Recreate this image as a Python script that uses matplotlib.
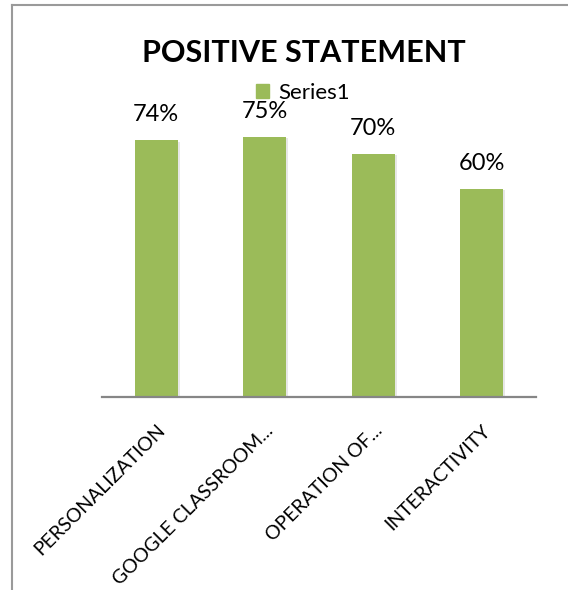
import matplotlib.pyplot as plt
import matplotlib.patheffects as pe
import matplotlib.transforms as mtransforms
from matplotlib.lines import Line2D
from matplotlib.patches import Patch

# data
categories = ["PERSONALIZATION", "GOOGLE CLASSROOM...", "OPERATION OF...", "INTERACTIVITY"]
values = [0.74, 0.75, 0.70, 0.60]
series_name = "Series1"
title = "POSITIVE STATEMENT"

green = "#9BBB59"
W, H = 568, 590

plt.rcParams['font.family'] = ['Lato', 'DejaVu Sans']

fig = plt.figure(figsize=(W / 100, H / 100), dpi=100)
ax = fig.add_axes([102 / W, (H - 397) / H, 434 / W, 312 / H])

x = range(len(categories))
bars = ax.bar(x, values, width=0.4, color=green, zorder=2)
for b in bars:
    b.set_path_effects([pe.SimplePatchShadow(offset=(1.2, -0.8), shadow_rgbFace='#b0b0b0', alpha=0.3),
                        pe.Normal()])

for xi, v in zip(x, values):
    ax.annotate(f"{v:.0%}", (xi, v), xytext=(0, 14), textcoords='offset points',
                ha='center', va='baseline', fontsize=17, color='black')

ax.set_xlim(-0.5, len(categories) - 0.5)
ax.set_ylim(0, 0.9)
ax.set_yticks([])
for s in ['top', 'right', 'left']:
    ax.spines[s].set_visible(False)
ax.spines['bottom'].set_color('#868686')
ax.spines['bottom'].set_linewidth(1.6)

ax.set_xticks(list(x))
ax.set_xticklabels(categories, rotation=45, ha='right', va='center',
                   rotation_mode='anchor', fontsize=14)
ax.tick_params(axis='x', length=0, pad=22)
shift = mtransforms.ScaledTranslation(6 / 100, 0, fig.dpi_scale_trans)
for lab in ax.get_xticklabels():
    lab.set_transform(lab.get_transform() + shift)

fig.text(303.5 / W, (H - 62) / H, title, ha='center', va='baseline',
         fontsize=22, fontweight='bold')

ax.legend(handles=[Patch(color=green, label=series_name)], loc='upper left',
          bbox_to_anchor=(256 / W, (H - 83) / H), bbox_transform=fig.transFigure,
          frameon=False, fontsize=16, handlelength=0.6, handleheight=0.6,
          handletextpad=0.4, borderpad=0, borderaxespad=0)

# outer chart frame (only left and top edges visible in the crop)
fig.add_artist(Line2D([12 / W, 12 / W], [0, (H - 5) / H], transform=fig.transFigure,
                      color='#9a9a9a', lw=1.5))
fig.add_artist(Line2D([12 / W, 1], [(H - 5) / H, (H - 5) / H], transform=fig.transFigure,
                      color='#9a9a9a', lw=1.5))

fig.savefig("out.png", dpi=100)
